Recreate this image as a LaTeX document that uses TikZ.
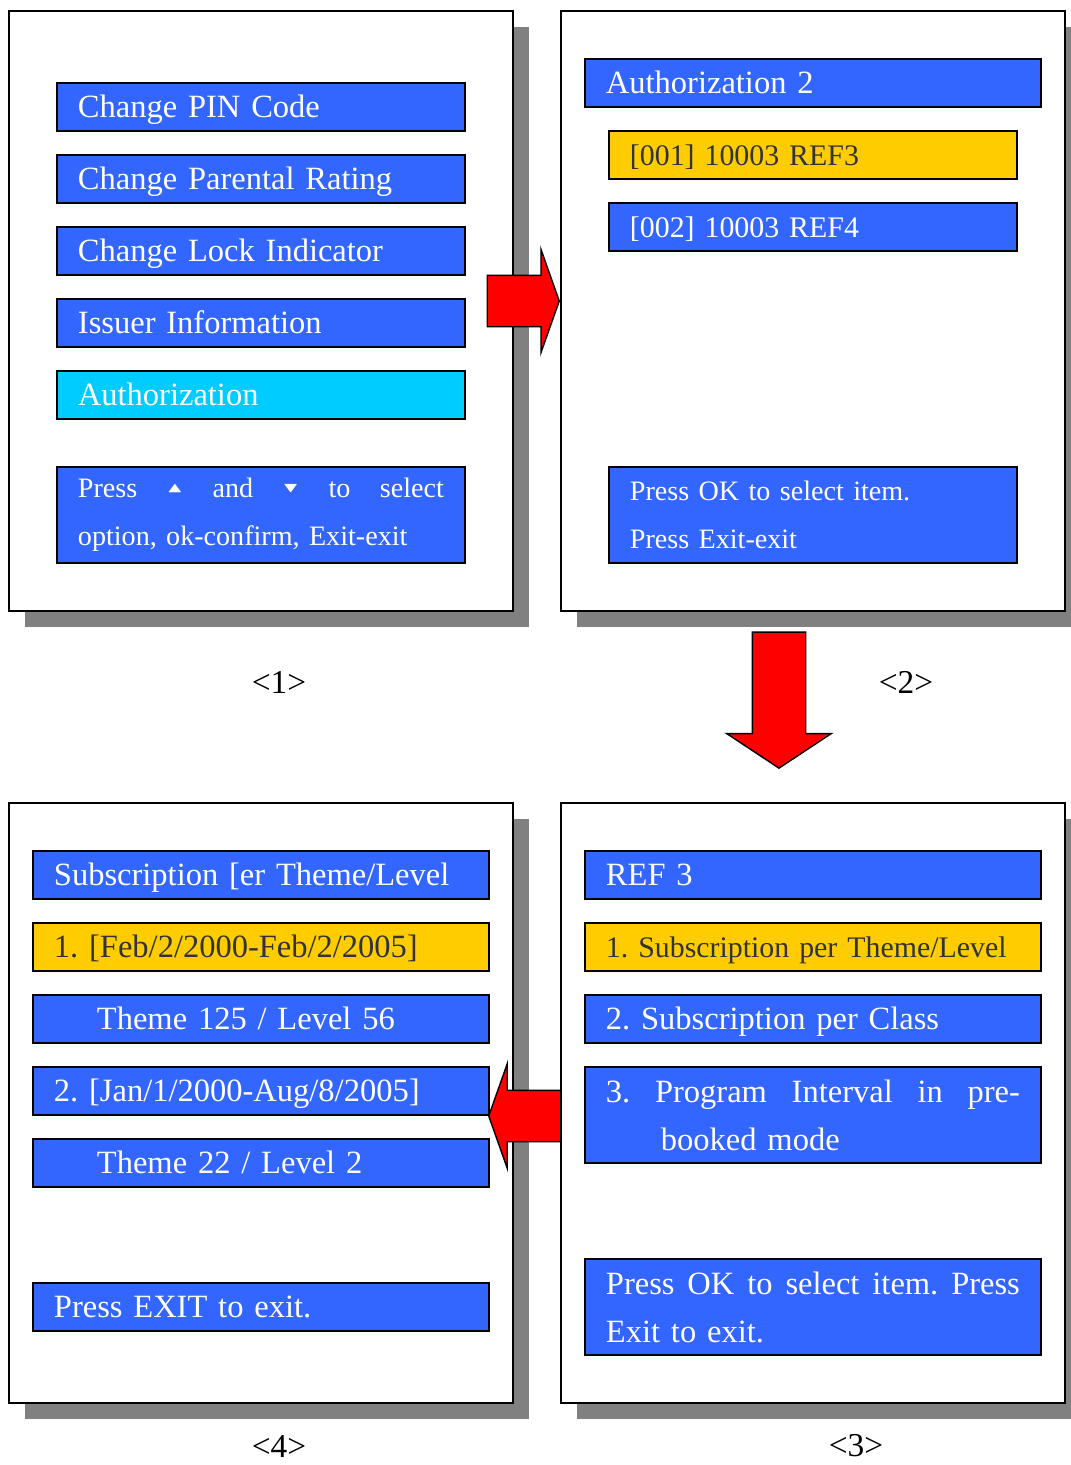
\documentclass[tikz,border=0pt]{standalone}
\usepackage{amssymb}
\usepackage{graphicx}
\usepackage{fontspec}
\setmainfont{Liberation Serif}
\usetikzlibrary{shapes.arrows,shadows}
\frenchspacing

\definecolor{scrblue}{HTML}{3366FF}
\definecolor{selcyan}{HTML}{00CCFF}
\definecolor{selyellow}{HTML}{FFCC00}
\definecolor{textdark}{HTML}{333333}
\definecolor{shadowgray}{HTML}{808080}

\newcommand{\itemfont}{\fontsize{18.5}{27.3}\selectfont}
\newcommand{\reffont}{\fontsize{17}{27.3}\selectfont}
\newcommand{\helpfont}{\fontsize{16}{27.3}\selectfont}
\newcommand{\wordgap}{\hskip 0pt plus 1filll\relax}
\newcommand{\uptri}{\raisebox{3pt}{\scalebox{0.8}[0.5]{$\blacktriangle$}}}
\newcommand{\dntri}{\raisebox{3pt}{\scalebox{0.8}[0.5]{$\blacktriangledown$}}}

\begin{document}
\begin{tikzpicture}[x=0.02cm, y=-0.02cm,
	screen/.style={draw, line width=1.1pt, fill=white, anchor=north west, inner sep=0pt,
		minimum width=10.08cm, minimum height=12cm,
		drop shadow={shadow xshift=0.32cm, shadow yshift=-0.32cm, fill=shadowgray, draw=none, opacity=1}},
	item bar/.style={draw, line width=1.1pt, fill=scrblue, text=white, anchor=north west,
		minimum height=0.96cm, inner xsep=0.42cm, inner ysep=0pt, text height=0.42cm, text depth=0pt,
		text width=7.32cm, align=left, font=\itemfont},
	wide bar/.style={item bar, text width=8.28cm},
	help box/.style={draw, line width=1.1pt, fill=scrblue, text=white, anchor=north west,
		minimum height=1.92cm, inner xsep=0.42cm, inner ysep=0pt, text width=7.32cm, align=left, font=\helpfont},
	selected/.style={fill=selyellow, text=textdark},
	red arrow/.style={single arrow, draw, line width=0.8pt, fill=red, anchor=tip, inner xsep=0pt,
		text height=0pt, text depth=0pt}]
	\tikzstyle{screen label}=[font=\fontsize{19}{24}\selectfont]
	\path[fill=white, use as bounding box] (0,0) rectangle (1071,1465);
	\draw
		(8,10)    node(s1) [screen] {}
		(560,10)  node(s2) [screen] {}
		(560,802) node(s3) [screen] {}
		(8,802)   node(s4) [screen] {};
	\draw
		(56,82)  node(b11) [item bar] {Change PIN Code}
		(56,154) node(b12) [item bar] {Change Parental Rating}
		(56,226) node(b13) [item bar] {Change Lock Indicator}
		(56,298) node(b14) [item bar] {Issuer Information}
		(56,370) node(b15) [item bar, fill=selcyan] {Authorization}
		(56,466) node(h1) [help box] {Press\wordgap\uptri\wordgap and\wordgap\dntri\wordgap to\wordgap select\\option, ok-confirm, Exit-exit};
	\draw
		(584,58)  node(b21) [wide bar] {Authorization 2}
		(608,130) node(b22) [item bar, selected, font=\reffont] {[001] 10003 REF3}
		(608,202) node(b23) [item bar, font=\reffont] {[002] 10003 REF4}
		(608,466) node(h2) [help box] {Press OK to select item.\\Press Exit-exit};
	\draw
		(584,850)  node(b31) [wide bar] {REF 3}
		(584,922)  node(b32) [wide bar, selected, font=\reffont] {1. Subscription per Theme/Level}
		(584,994)  node(b33) [wide bar] {2. Subscription per Class}
		(584,1066) node(b34) [help box, text width=8.28cm, font=\itemfont] {3.\wordgap Program\wordgap Interval\wordgap in\wordgap pre-\\\hspace*{1.1cm}booked mode}
		(584,1258) node(h3) [help box, text width=8.28cm, font=\itemfont] {Press\wordgap OK\wordgap to\wordgap select\wordgap item.\wordgap Press\\Exit to exit.};
	\draw
		(32,850)  node(b41) [wide bar] {Subscription [er Theme/Level}
		(32,922)  node(b42) [wide bar, selected] {1. [Feb/2/2000-Feb/2/2005]}
		(32,994)  node(b43) [wide bar] {\hspace*{0.86cm}Theme 125 / Level 56}
		(32,1066) node(b44) [wide bar] {2. [Jan/1/2000-Aug/8/2005]}
		(32,1138) node(b45) [wide bar] {\hspace*{0.86cm}Theme 22 / Level 2}
		(32,1282) node(b46) [wide bar] {Press EXIT to exit.};
	\draw
		(279,682)  node(l1) [screen label] {<1>}
		(906,682)  node(l2) [screen label] {<2>}
		(856,1446) node(l3) [screen label] {<3>}
		(279,1446) node(l4) [screen label] {<4>};
	\draw
		(560,301)  node(a12) [red arrow, inner ysep=0.5cm, minimum height=1.44cm, single arrow head extend=0.52cm, single arrow tip angle=141] {}
		(779,769)  node(a23) [red arrow, rotate=-90, inner ysep=0.52cm, minimum height=2.72cm, single arrow head extend=0.51cm, single arrow tip angle=113] {}
		(488,1116) node(a34) [red arrow, rotate=180, inner ysep=0.5cm, minimum height=1.44cm, single arrow head extend=0.53cm, single arrow tip angle=141] {};
\end{tikzpicture}
\end{document}
